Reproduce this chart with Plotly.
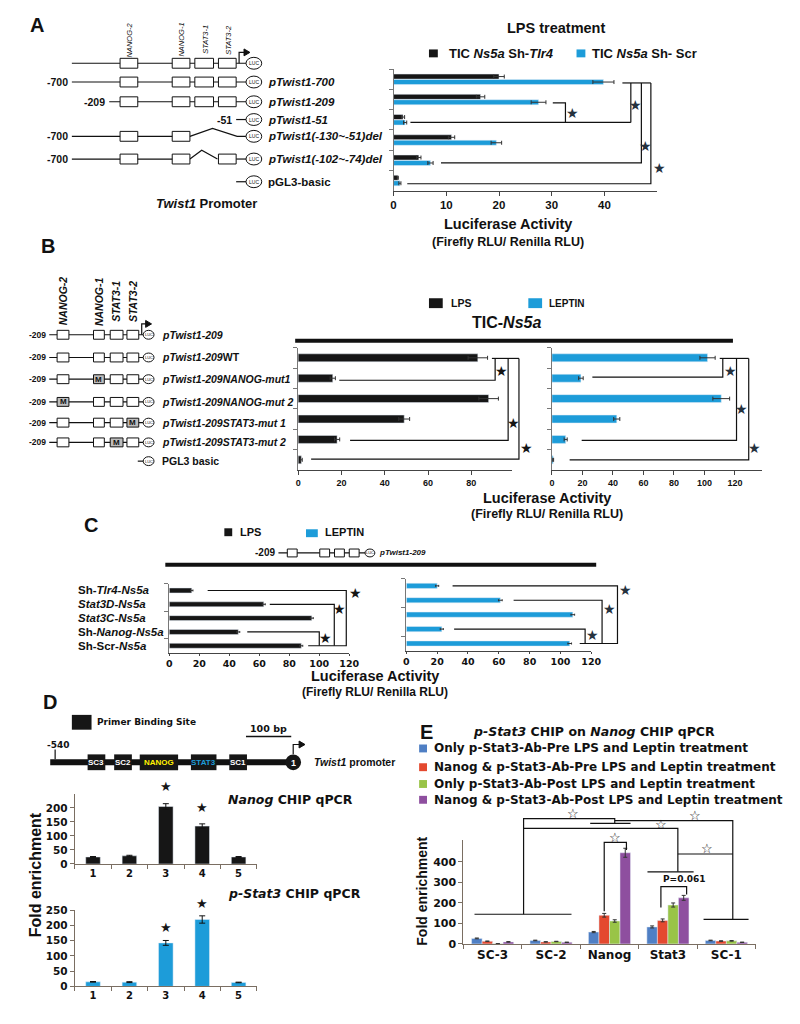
import plotly.graph_objects as go

W, H = 800, 1024
FONT = "Liberation Sans, Arial, sans-serif"
WIDE = "DejaVu Sans, Liberation Sans, sans-serif"
BLK = "#161616"
CYAN = "#1D9CD9"
STAR_C = "#26323e"
E_COLORS = ["#4F7FC4", "#E4492F", "#99C447", "#8E4F9F"]

# ---------------- Panel A data ----------------
A_constructs = ["pTwist1-700", "pTwist1-209", "pTwist1-51",
                "pTwist1(-130~-51)del", "pTwist1(-102~-74)del", "pGL3-basic"]
A_sh_tlr4 = [20.0, 16.5, 1.8, 11.0, 4.8, 0.8]
A_sh_tlr4_err = [1.0, 0.8, 0.3, 0.6, 0.4, 0.1]
A_sh_scr = [39.8, 27.5, 2.2, 19.5, 7.0, 1.2]
A_sh_scr_err = [2.0, 1.4, 0.3, 1.0, 0.5, 0.2]
A_ticks = [0, 10, 20, 30, 40]

# ---------------- Panel B data ----------------
B_constructs = ["pTwist1-209WT", "pTwist1-209NANOG-mut1", "pTwist1-209NANOG-mut 2",
                "pTwist1-209STAT3-mut 1", "pTwist1-209STAT3-mut 2", "PGL3 basic"]
B_lps = [83, 16, 88, 49, 18, 1.5]
B_lps_err = [4.5, 1.2, 4.5, 2.5, 1.2, 0.4]
B_leptin = [102, 19, 111, 42.5, 9, 0.8]
B_leptin_err = [5, 1.5, 5.5, 2, 1, 0.3]
B_ticks_lps = [0, 20, 40, 60, 80]
B_ticks_leptin = [0, 20, 40, 60, 80, 100, 120]

# ---------------- Panel C data ----------------
C_lines = ["Sh-Tlr4-Ns5a", "Stat3D-Ns5a", "Stat3C-Ns5a", "Sh-Nanog-Ns5a", "Sh-Scr-Ns5a"]
C_lines_html = ["Sh-<i>Tlr4-Ns5a</i>", "<i>Stat3D-Ns5a</i>", "<i>Stat3C-Ns5a</i>",
                "Sh-<i>Nanog-Ns5a</i>", "Sh-Scr-<i>Ns5a</i>"]
C_lps = [15, 63, 95, 46, 88]
C_lps_err = [0.8, 1, 1, 1, 1]
C_leptin = [20, 61, 108, 23, 106]
C_leptin_err = [1, 1.2, 1.2, 1, 1.2]
C_ticks = [0, 20, 40, 60, 80, 100, 120]

# ---------------- Panel D data ----------------
D_sites = ["1", "2", "3", "4", "5"]
D_nanog = [25, 29, 205, 135, 25]
D_nanog_err = [1.5, 2, 10, 8, 1.5]
D_pstat3 = [15, 14, 143, 220, 13]
D_pstat3_err = [1, 1.5, 8, 12, 1]
D_ticks_nanog = [0, 50, 100, 150, 200]
D_ticks_pstat3 = [0, 50, 100, 150, 200, 250]

# ---------------- Panel E data ----------------
E_regions = ["SC-3", "SC-2", "Nanog", "Stat3", "SC-1"]
E_series = ["Only p-Stat3-Ab-Pre LPS and Leptin treatment",
            "Nanog & p-Stat3-Ab-Pre LPS and Leptin treatment",
            "Only p-Stat3-Ab-Post LPS and Leptin treatment",
            "Nanog & p-Stat3-Ab-Post LPS and Leptin treatment"]
E_only_pre = [27, 17, 58, 83, 17]
E_only_pre_err = [2, 1.5, 3, 5, 1.5]
E_nanog_pre = [13, 10, 140, 115, 14]
E_nanog_pre_err = [1.5, 1, 9, 7, 1.5]
E_only_post = [1, 12, 112, 190, 15]
E_only_post_err = [0.5, 1, 6, 10, 1.5]
E_nanog_post = [10, 8, 445, 225, 8]
E_nanog_post_err = [1.5, 1, 22, 12, 1]
E_ticks = [0, 100, 200, 300, 400]

# ---------------- helpers ----------------
def X(px):
    return px / W


def Y(py):
    return 1 - py / H


shapes, annotations = [], []


def seg(x0, y0, x1, y1, w=1.2, color="#111"):
    shapes.append(dict(type="line", xref="paper", yref="paper", x0=X(x0), y0=Y(y0),
                       x1=X(x1), y1=Y(y1), line=dict(color=color, width=w)))


def poly(pts, w=1.2, color="#111", fill=None):
    d = "M " + " L ".join(f"{X(x):.5f},{Y(y):.5f}" for x, y in pts)
    if fill:
        d += " Z"
    shapes.append(dict(type="path", xref="paper", yref="paper", path=d,
                       line=dict(color=color, width=w),
                       fillcolor=fill if fill else "rgba(0,0,0,0)"))


def box(x0, y0, x1, y1, fill="white", w=1, color="#111"):
    shapes.append(dict(type="rect", xref="paper", yref="paper", x0=X(x0), y0=Y(y1),
                       x1=X(x1), y1=Y(y0), fillcolor=fill, line=dict(color=color, width=w)))


def ellipse(cx, cy, rx, ry, fill="white", w=1, color="#111"):
    shapes.append(dict(type="circle", xref="paper", yref="paper", x0=X(cx - rx), x1=X(cx + rx),
                       y0=Y(cy + ry), y1=Y(cy - ry), fillcolor=fill, line=dict(color=color, width=w)))


def txt(x, y, s, size=10, anchor="left", color="#111", angle=0, bold=True, family=FONT):
    if bold:
        s = f"<b>{s}</b>"
    annotations.append(dict(xref="paper", yref="paper", x=X(x), y=Y(y), text=s, showarrow=False,
                            xanchor=anchor, yanchor="middle", textangle=angle,
                            borderpad=0, font=dict(size=size, color=color, family=family)))


def star(x, y, size=14, color=BLK, outline=False):
    annotations.append(dict(xref="paper", yref="paper", x=X(x), y=Y(y),
                            text="☆" if outline else "★", showarrow=False,
                            xanchor="center", yanchor="middle", borderpad=0,
                            font=dict(size=size, color=color, family="DejaVu Sans")))


def luc(cx, cy, rx, ry, fs):
    ellipse(cx, cy, rx, ry)
    txt(cx, cy, "LUC", size=fs, anchor="center", bold=False)


def promoter_arrow(x, y, h, length, w=1.2):
    poly([(x, y), (x, y - h), (x + length, y - h)], w=w)
    tip = x + length + 2
    poly([(tip, y - h), (tip - 6, y - h - 3.5), (tip - 6, y - h + 3.5)], w=1, fill="#111")


# axis geometry (pixels) used for the annotation brackets
AX = {
    "A": dict(x0=397, x1=665, r0=0, r1=50, y0=64, y1=187, n=6),
    "BL": dict(x0=300, x1=517, r0=0, r1=98.6, y0=346, y1=470, n=6),
    "BR": dict(x0=558, x1=772, r0=0, r1=138, y0=346, y1=470, n=6),
    "CL": dict(x0=169, x1=352, r0=0, r1=120, y0=585, y1=655, n=5),
    "CR": dict(x0=410, x1=598, r0=0, r1=120, y0=580, y1=653, n=5),
    "DT": dict(x0=73, x1=258, n=5, y0=798, y1=869, r1=250),
    "DB": dict(x0=73, x1=258, n=5, y0=916, y1=993, r1=250),
    "E": dict(x0=468, x1=765, n=5, y0=845, y1=950, r1=506),
}


def hx(a, v):
    return a["x0"] + (v - a["r0"]) / (a["r1"] - a["r0"]) * (a["x1"] - a["x0"])


def hy(a, row):
    return a["y0"] + (row + 0.5) * (a["y1"] - a["y0"]) / a["n"]


def vx(a, cat):
    return a["x0"] + (cat + 0.5) * (a["x1"] - a["x0"]) / a["n"]


def vy(a, v):
    return a["y1"] - v / a["r1"] * (a["y1"] - a["y0"])


def hbr(a, pts, w=1.2):
    poly([(hx(a, v), hy(a, r)) for v, r in pts], w=w)


def vbr(a, pts, w=1.2):
    poly([(vx(a, c), vy(a, v)) for c, v in pts], w=w)


fig = go.Figure()


def err(arr, width=2, color="#333"):
    return dict(type="data", array=arr, color=color, thickness=1, width=width)


# ---------------- traces ----------------
fig.add_trace(go.Bar(y=A_constructs, x=A_sh_tlr4, orientation="h", marker_color=BLK,
                     width=0.25, offset=-0.26, error_x=err(A_sh_tlr4_err), xaxis="x", yaxis="y"))
fig.add_trace(go.Bar(y=A_constructs, x=A_sh_scr, orientation="h", marker_color=CYAN,
                     width=0.25, offset=0.01, error_x=err(A_sh_scr_err), xaxis="x", yaxis="y"))
fig.add_trace(go.Bar(y=B_constructs, x=B_lps, orientation="h", marker_color=BLK, width=0.39,
                     error_x=err(B_lps_err), xaxis="x2", yaxis="y2"))
fig.add_trace(go.Bar(y=B_constructs, x=B_leptin, orientation="h", marker_color=CYAN, width=0.39,
                     error_x=err(B_leptin_err), xaxis="x3", yaxis="y3"))
fig.add_trace(go.Bar(y=C_lines, x=C_lps, orientation="h", marker_color=BLK, width=0.36,
                     error_x=err(C_lps_err, 1), xaxis="x4", yaxis="y4"))
fig.add_trace(go.Bar(y=C_lines, x=C_leptin, orientation="h", marker_color=CYAN, width=0.36,
                     error_x=err(C_leptin_err, 1), xaxis="x5", yaxis="y5"))
fig.add_trace(go.Bar(x=D_sites, y=D_nanog, marker_color=BLK, width=0.4,
                     error_y=err(D_nanog_err, 3, "#111"), xaxis="x6", yaxis="y6"))
fig.add_trace(go.Bar(x=D_sites, y=D_pstat3, marker_color=CYAN, width=0.4,
                     error_y=err(D_pstat3_err, 3, "#111"), xaxis="x7", yaxis="y7"))
E_vals = [E_only_pre, E_nanog_pre, E_only_post, E_nanog_post]
E_errs = [E_only_pre_err, E_nanog_pre_err, E_only_post_err, E_nanog_post_err]
for k in range(4):
    fig.add_trace(go.Bar(x=E_regions, y=E_vals[k], name=E_series[k], marker_color=E_COLORS[k],
                         width=0.18, offset=-0.36 + 0.18 * k,
                         error_y=err(E_errs[k], 2, "#333"), xaxis="x8", yaxis="y8"))


# ---------------- axes ----------------
def tf(size, family=FONT):
    return dict(family=family, size=size, color="#111", weight="bold")


def h_axes(key, cats, tickvals, anchor_y, anchor_x, tfont, ticklen=4):
    a = AX[key]
    xa = dict(domain=[X(a["x0"]), X(a["x1"])], range=[a["r0"], a["r1"]], tickvals=tickvals,
              ticks="outside", ticklen=ticklen, tickcolor="#444", showline=True, linecolor="#444",
              linewidth=1, showgrid=False, zeroline=False, anchor=anchor_y, tickfont=tfont)
    ya = dict(domain=[Y(a["y1"]), Y(a["y0"])], type="category", categoryorder="array",
              categoryarray=cats, range=[a["n"] - 0.5, -0.5], tickson="boundaries",
              showticklabels=False, ticks="outside", ticklen=4, tickcolor="#777", showline=True,
              linecolor="#777", linewidth=1, showgrid=False, zeroline=False, anchor=anchor_x)
    return xa, ya


def v_axes(key, cats, tickvals, anchor_y, anchor_x, xfont, yfont):
    a = AX[key]
    xa = dict(domain=[X(a["x0"]), X(a["x1"])], type="category", categoryorder="array",
              categoryarray=cats, tickson="boundaries", ticks="outside", ticklen=4,
              tickcolor="#7a6e62", showline=True, linecolor="#7a6e62", linewidth=1.2, showgrid=False,
              zeroline=False, anchor=anchor_y, tickfont=xfont)
    ya = dict(domain=[Y(a["y1"]), Y(a["y0"])], range=[0, a["r1"]], tickvals=tickvals,
              ticks="outside", ticklen=4, tickcolor="#7a6e62", showline=True, linecolor="#7a6e62",
              linewidth=1.2, showgrid=False, zeroline=False, anchor=anchor_x, tickfont=yfont)
    return xa, ya


axes = {}
axes["xaxis"], axes["yaxis"] = h_axes("A", A_constructs, A_ticks, "y", "x", tf(11.5))
axes["xaxis2"], axes["yaxis2"] = h_axes("BL", B_constructs, B_ticks_lps, "y2", "x2", tf(9))
axes["xaxis3"], axes["yaxis3"] = h_axes("BR", B_constructs, B_ticks_leptin, "y3", "x3", tf(9))
axes["xaxis4"], axes["yaxis4"] = h_axes("CL", C_lines, C_ticks, "y4", "x4", tf(9.5, WIDE), ticklen=2)
axes["xaxis5"], axes["yaxis5"] = h_axes("CR", C_lines, C_ticks, "y5", "x5", tf(9.5, WIDE), ticklen=2)
axes["xaxis6"], axes["yaxis6"] = v_axes("DT", D_sites, D_ticks_nanog, "y6", "x6",
                                        tf(10, WIDE), tf(10.5, WIDE))
axes["xaxis7"], axes["yaxis7"] = v_axes("DB", D_sites, D_ticks_pstat3, "y7", "x7",
                                        tf(10, WIDE), tf(10.5, WIDE))
axes["xaxis8"], axes["yaxis8"] = v_axes("E", E_regions, E_ticks, "y8", "x8",
                                        tf(12, WIDE), tf(11, WIDE))

# ================= Panel A drawings =================
txt(35, 19, "A", size=20, anchor="center")
A_box = [(119, 137), (172, 190), (195, 214), (219, 237)]
for (bx0, bx1), lab in zip(A_box, ["NANOG-2", "NANOG-1", "STAT3-1", "STAT3-2"]):
    txt((bx0 + bx1) / 2 + 1, 34, f"<i>{lab}</i>", size=7.5, anchor="center", angle=-90, bold=False)


def a_boxes(y, idx):
    for i in idx:
        box(A_box[i][0], y - 5, A_box[i][1], y + 5)


# header row
seg(70, 58, 247, 58)
a_boxes(58, range(4))
promoter_arrow(240, 58, 11, 9)
luc(255, 58, 8, 6, 5)
# pTwist1-700
seg(70, 77, 247, 77); a_boxes(77, range(4)); luc(255, 77, 8, 6, 5)
txt(67, 77, "-700", size=10.5, anchor="right")
txt(268, 77, f"<i>{A_constructs[0]}</i>", size=11.5)
# pTwist1-209
seg(108, 97, 247, 97); a_boxes(97, range(4)); luc(255, 97, 8, 6, 5)
txt(105, 97, "-209", size=10.5, anchor="right")
txt(268, 97, f"<i>{A_constructs[1]}</i>", size=11.5)
# pTwist1-51
seg(237, 115, 247, 115); luc(255, 115, 8, 6, 5)
txt(234, 115, "-51", size=10.5, anchor="right")
txt(268, 115, f"<i>{A_constructs[2]}</i>", size=11.5)
# deletion -130~-51
seg(70, 132, 190, 132)
poly([(190, 132), (213, 124), (238, 132), (247, 132)])
a_boxes(132, [0, 1]); luc(255, 132, 8, 6, 5)
txt(67, 132, "-700", size=10.5, anchor="right")
txt(268, 132, f"<i>{A_constructs[3]}</i>", size=11.5)
# deletion -102~-74
seg(70, 155, 190, 155)
poly([(190, 155), (202, 146), (218, 155)])
seg(237, 155, 247, 155)
a_boxes(155, [0, 1, 3]); luc(255, 155, 8, 6, 5)
txt(67, 155, "-700", size=10.5, anchor="right")
txt(268, 155, f"<i>{A_constructs[4]}</i>", size=11.5)
# pGL3-basic
seg(237, 178, 247, 178); luc(255, 178, 8, 6, 5)
txt(268, 178, A_constructs[5], size=11.5)
txt(207, 200, "<i>Twist1</i> Promoter", size=13, anchor="center")

# panel A chart text
txt(562, 22, "LPS treatment", size=14.5, anchor="center")
box(433, 44, 442, 52, fill=BLK, w=0)
txt(452, 48, "TIC <i>Ns5a</i> Sh-<i>Tlr4</i>", size=13)
box(583, 44, 592, 52, fill=CYAN, w=0)
txt(598, 48, "TIC <i>Ns5a</i> Sh- Scr", size=13)
txt(513, 221, "Luciferase Activity", size=14.5, anchor="center")
txt(513, 239, "(Firefly RLU/ Renilla RLU)", size=12.5, anchor="center")

a = AX["A"]
hbr(a, [(30.2, 1.16), (32.6, 1.16), (32.6, 2.13)])
hbr(a, [(3.2, 2.13), (45, 2.13)])
hbr(a, [(43.4, 0.18), (48.8, 0.18)])
hbr(a, [(45, 0.18), (45, 2.13)])
hbr(a, [(47, 0.18), (47, 4.13), (9, 4.13)])
hbr(a, [(48.8, 0.18), (48.8, 5.16), (2.6, 5.16)])
for v, r in [(34, 1.65), (45.8, 1.26), (47.7, 3.3), (50.5, 4.38)]:
    star(hx(a, v), hy(a, r), size=14, color=STAR_C)

# ================= Panel B drawings =================
txt(46, 243, "B", size=20, anchor="center")
B_box = [(55, 67), (92, 103), (109, 122), (126, 138)]
for (bx0, bx1), lab in zip(B_box, ["NANOG-2", "NANOG-1", "STAT3-1", "STAT3-2"]):
    txt((bx0 + bx1) / 2, 299, f"<i>{lab}</i>", size=10.5, anchor="center", angle=-90)
B_rows_y = [333, 356, 378, 401, 422, 442]
B_mut = {2: 1, 3: 0, 4: 3, 5: 2}
B_labels = ["<i>pTwist1-209</i>", "<i>pTwist1-209</i>WT", "<i>pTwist1-209NANOG-mut1</i>",
            "<i>pTwist1-209NANOG-mut 2</i>", "<i>pTwist1-209STAT3-mut 1</i>",
            "<i>pTwist1-209STAT3-mut 2</i>"]
for r, y in enumerate(B_rows_y):
    seg(47, y, 143, y)
    for i, (bx0, bx1) in enumerate(B_box):
        if B_mut.get(r) == i:
            box(bx0, y - 4.5, bx1, y + 4.5, fill="#bdbdbd")
            txt((bx0 + bx1) / 2, y, "M", size=8, anchor="center")
        else:
            box(bx0, y - 4.5, bx1, y + 4.5)
    luc(148, y, 5.5, 4.5, 4)
    txt(45, y, "-209", size=8.5, anchor="right")
    txt(161, y, B_labels[r], size=10.5)
promoter_arrow(141, 333, 11, 8, w=1.2)
seg(137, 461, 143, 461); luc(148, 461, 5.5, 4.5, 4)
txt(161, 461, B_constructs[5], size=10.5)

box(433, 296, 447, 306, fill=BLK, w=0)
txt(454, 301, "LPS", size=10.5)
box(534, 296, 548, 306, fill=CYAN, w=0)
txt(554, 301, "LEPTIN", size=10)
txt(512, 321, "TIC-<i>Ns5a</i>", size=16, anchor="center")
seg(297, 339, 742, 339, w=4)
txt(553, 498, "Luciferase Activity", size=14.5, anchor="center")
txt(553, 515, "(Firefly RLU/ Renilla RLU)", size=12.5, anchor="center")

a = AX["BL"]
hbr(a, [(89.5, 0.03), (102, 0.03)])
hbr(a, [(91, 0.03), (91, 1.1), (19, 1.1)])
hbr(a, [(97, 0.03), (97, 4.05), (24, 4.05)])
hbr(a, [(102, 0.03), (102, 4.97), (6, 4.97)])
for v, r in [(94, 0.66), (99.5, 3.18), (105.5, 4.43)]:
    star(hx(a, v), hy(a, r), size=14)
a = AX["BR"]
hbr(a, [(110, 0.03), (129, 0.03)])
hbr(a, [(112, 0.03), (112, 0.95), (26.5, 0.95)])
hbr(a, [(121, 0.03), (121, 4.05), (19.5, 4.05)])
hbr(a, [(129, 0.03), (129, 5.0), (11.6, 5.0)])
for v, r in [(117, 0.66), (124.5, 2.5), (132.5, 4.43)]:
    star(hx(a, v), hy(a, r), size=14, color=STAR_C)

# ================= Panel C drawings =================
txt(89, 526, "C", size=20, anchor="center")
box(225, 529, 233, 537, fill=BLK, w=0)
txt(240, 533, "LPS", size=11)
box(308, 530, 320, 538, fill=CYAN, w=0)
txt(326, 533, "LEPTIN", size=11)
seg(280, 554, 368, 554)
for bx0, bx1 in [(289, 299), (322, 332), (337, 347), (352, 362)]:
    box(bx0, 550, bx1, 558)
luc(373, 554, 5, 4, 4)
txt(278, 554, "-209", size=10, anchor="right")
txt(381, 554, "<i>pTwist1-209</i>", size=8)
seg(165, 566, 603, 566, w=4)
for r, lab in enumerate(C_lines_html):
    txt(75, hy(AX["CL"], r), lab, size=11.5)
txt(378, 679, "Luciferase Activity", size=14.5, anchor="center")
txt(378, 695, "(Firefly RLU/ Renilla RLU)", size=12, anchor="center")

a = AX["CL"]
hbr(a, [(25.6, 0), (118, 0), (118, 4), (92.6, 4)])
hbr(a, [(67, 1), (110, 1), (110, 4)])
hbr(a, [(52, 3), (100, 3), (100, 4)])
for v, r in [(124, 0.21), (113.6, 1.36), (104, 3.43)]:
    star(hx(a, v), hy(a, r), size=14)
a = AX["CR"]
hbr(a, [(30, 0), (137, 0), (137, 4), (112.5, 4)])
hbr(a, [(69.6, 1), (127, 1), (127, 4)])
hbr(a, [(31, 3), (116, 3), (116, 4)])
for v, r in [(142, 0.26), (132, 1.64), (121, 3.43)]:
    star(hx(a, v), hy(a, r), size=14, color=STAR_C)

# ================= Panel D drawings =================
txt(48, 705, "D", size=20, anchor="center")
box(70, 718, 90, 733, fill=BLK, w=0)
txt(95, 725, "Primer Binding Site", size=9, family=WIDE)
txt(270, 732, "100 bp", size=9.5, anchor="center", family=WIDE)
seg(247, 740, 293, 740, w=1.5)
txt(56, 748, "-540", size=9, anchor="center", family=WIDE)
seg(53, 753, 53, 763, w=1.2)
seg(48, 766, 290, 766, w=6)
for (bx0, bx1), lab, col in zip([(86, 104), (113, 131), (139, 178), (191, 217), (230, 248)],
                                ["SC3", "SC2", "NANOG", "STAT3", "SC1"],
                                ["white", "white", "#FFF200", CYAN, "white"]):
    box(bx0, 758, bx1, 774, fill=BLK, w=0)
    txt((bx0 + bx1) / 2, 766, lab, size=8, anchor="center", color=col)
ellipse(295, 766, 8, 8, fill=BLK, w=0)
txt(295, 767, "1", size=9, anchor="center", color="white")
promoter_arrow(295, 758, 10, 10)
txt(315, 766, "<i>Twist1</i> promoter", size=10.5)
txt(228, 804, "<i>Nanog</i> CHIP qPCR", size=12.5, family=WIDE)
txt(228, 899, "<i>p-Stat3</i> CHIP qPCR", size=12.5, family=WIDE)
txt(33, 880, "Fold enrichment", size=16, anchor="center", angle=-90)
a = AX["DT"]
for c in (2, 3):
    star(vx(a, c), vy(a, D_nanog[c] + D_nanog_err[c]) - 17, size=13)
a = AX["DB"]
for c in (2, 3):
    star(vx(a, c), vy(a, D_pstat3[c] + D_pstat3_err[c]) - 13, size=13)

# ================= Panel E drawings =================
txt(430, 735, "E", size=20, anchor="center")
txt(477, 735, "<i>p-Stat3</i> CHIP on <i>Nanog</i> CHIP qPCR", size=12.5, family=WIDE)
for k, yy in enumerate([752, 771, 788, 804]):
    box(423, yy - 4, 431, yy + 4, fill=E_COLORS[k], w=0)
    txt(437, yy, E_series[k], size=12, family=WIDE)
txt(426, 897, "Fold enrichment", size=14, anchor="center", angle=-90)
a = AX["E"]
vbr(a, [(-0.31, 145), (1.35, 145)])
vbr(a, [(0.53, 145), (0.53, 612), (2.09, 612), (2.09, 588)])
vbr(a, [(1.67, 588), (2.36, 588)])
vbr(a, [(0.53, 564), (3.17, 564), (3.17, 352)])
vbr(a, [(2.65, 352), (3.44, 352)])
vbr(a, [(2.09, 602), (4.11, 602), (4.11, 120)])
vbr(a, [(3.61, 120), (4.38, 120)])
vbr(a, [(3.17, 439), (4.11, 439)])
vbr(a, [(1.91, 159), (1.91, 496), (2.29, 496), (2.29, 458)])
vbr(a, [(2.88, 178), (2.88, 280), (3.32, 280), (3.32, 241)])
for c, v in [(1.37, 636), (2.88, 583), (3.47, 627), (3.67, 467), (2.1, 520)]:
    star(vx(a, c), vy(a, v), size=13, outline=True)
txt(vx(a, 3.29), vy(a, 318), "P=0.061", size=9, anchor="center", family=WIDE)

fig.update_layout(
    width=W, height=H, margin=dict(l=0, r=0, t=0, b=0),
    paper_bgcolor="white", plot_bgcolor="rgba(0,0,0,0)",
    barmode="overlay", showlegend=False, hovermode=False,
    shapes=shapes, annotations=annotations,
    font=dict(family=FONT, color="#111"),
    **axes,
)

fig.write_html(
    "out.html",
    config={"displayModeBar": False},
    post_script=("document.documentElement.style.margin='0';"
                 "document.body.style.margin='0';"
                 "document.body.style.overflow='hidden';"
                 "document.documentElement.style.overflow='hidden';"),
)
